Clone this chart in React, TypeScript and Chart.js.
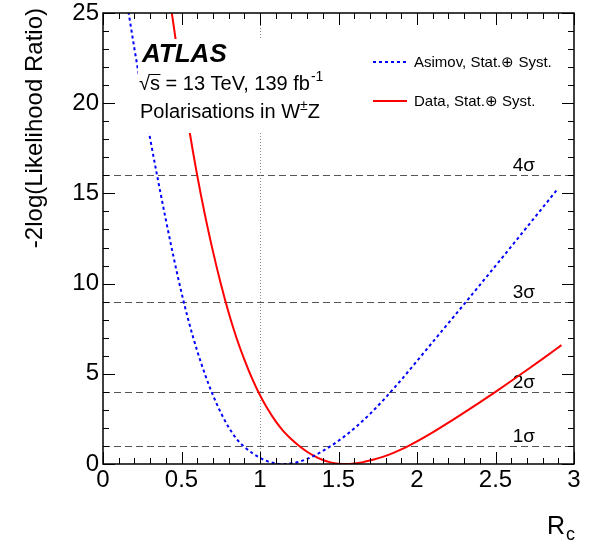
import { useEffect, useRef } from 'react';
import { Chart, registerables } from 'chart.js';

Chart.register(...registerables);

// ---- Data ----
const asimovX = [0.15, 0.2, 0.25, 0.3, 0.35, 0.4, 0.45, 0.5, 0.55, 0.6, 0.65, 0.7, 0.75, 0.8, 0.85, 0.9, 0.95, 1.0, 1.05, 1.1, 1.15, 1.2, 1.25, 1.3, 1.35, 1.4, 1.45, 1.5, 1.55, 1.6, 1.7, 1.8, 1.9, 2.0, 2.1, 2.2, 2.3, 2.4, 2.5, 2.6, 2.7, 2.8, 2.9];
const asimovY = [25.73, 23.03, 20.48, 18.05, 15.75, 13.55, 11.45, 9.5, 7.77, 6.27, 4.96, 3.82, 2.85, 2.04, 1.4, 0.95, 0.61, 0.34, 0.145, 0.033, 0.0, 0.036, 0.13, 0.28, 0.48, 0.72, 0.99, 1.29, 1.615, 1.97, 2.77, 3.68, 4.67, 5.71, 6.76, 7.81, 8.86, 9.92, 10.98, 12.05, 13.13, 14.21, 15.29];

const dataX = [0.43, 0.45, 0.5, 0.55, 0.6, 0.65, 0.7, 0.75, 0.8, 0.85, 0.9, 0.95, 1.0, 1.05, 1.1, 1.15, 1.2, 1.25, 1.3, 1.35, 1.4, 1.45, 1.5, 1.55, 1.6, 1.65, 1.7, 1.75, 1.8, 1.85, 1.9, 1.95, 2.0, 2.1, 2.2, 2.3, 2.4, 2.5, 2.6, 2.7, 2.8, 2.92];
const dataY = [25.5, 24.3, 21.3, 18.5, 16.0, 13.78, 11.8, 10.0, 8.4, 7.0, 5.8, 4.73, 3.81, 3.03, 2.36, 1.81, 1.375, 1.0, 0.68, 0.42, 0.22, 0.09, 0.02, 0.0, 0.03, 0.09, 0.19, 0.31, 0.45, 0.62, 0.81, 1.02, 1.25, 1.75, 2.29, 2.85, 3.42, 4.0, 4.6, 5.21, 5.83, 6.59];

const sigmaLevels = [1, 4, 9, 16];
const sigmaLabels = ['1σ', '2σ', '3σ', '4σ'];
const sigmaLabelX = 2.61;
const referenceX = 1;

const xMin = 0;
const xMax = 3;
const yMin = 0;
const yMax = 25;

const seriesNames = ['Asimov, Stat.⊕ Syst.', 'Data, Stat.⊕ Syst.'];

const FONT = "'Liberation Sans', Arial, Helvetica, sans-serif";

function toPoints(xs: number[], ys: number[]) {
  return xs.map((x, i) => ({ x, y: ys[i] }));
}

function fmtTick(v: number) {
  return Number.isInteger(v) ? String(v) : v.toFixed(1);
}

const decorPlugin = {
  id: 'rootDecor',
  beforeDatasetsDraw(chart: any) {
    const { ctx, chartArea, scales } = chart;
    const xs = scales.x;
    const ys = scales.y;
    ctx.save();
    // horizontal sigma lines
    ctx.strokeStyle = '#555';
    ctx.lineWidth = 1;
    ctx.setLineDash([7, 4]);
    sigmaLevels.forEach((lv) => {
      const py = Math.round(ys.getPixelForValue(lv)) + 0.5;
      ctx.beginPath();
      ctx.moveTo(chartArea.left, py);
      ctx.lineTo(chartArea.right, py);
      ctx.stroke();
    });
    // vertical dotted line at x=1
    ctx.strokeStyle = '#888';
    ctx.setLineDash([1, 2]);
    const px1 = Math.round(xs.getPixelForValue(referenceX)) + 0.5;
    ctx.beginPath();
    ctx.moveTo(px1, chartArea.bottom);
    ctx.lineTo(px1, chartArea.top);
    ctx.stroke();
    ctx.setLineDash([]);
    // sigma labels
    ctx.fillStyle = '#000';
    ctx.font = `19px ${FONT}`;
    ctx.textAlign = 'left';
    ctx.textBaseline = 'alphabetic';
    sigmaLevels.forEach((lv, i) => {
      const py = ys.getPixelForValue(lv);
      ctx.fillText(sigmaLabels[i], xs.getPixelForValue(sigmaLabelX), py - 4);
    });
    ctx.restore();
  },
  afterDatasetsDraw(chart: any) {
    const { ctx, chartArea, scales } = chart;
    const xs = scales.x;
    const ys = scales.y;
    const { left, right, top, bottom } = chartArea;
    ctx.save();

    // white pave behind the ATLAS label
    ctx.fillStyle = '#fff';
    ctx.fillRect(138, 39, 195, 94);

    // ATLAS label
    ctx.fillStyle = '#000';
    ctx.textAlign = 'left';
    ctx.textBaseline = 'alphabetic';
    ctx.font = `italic bold 26px ${FONT}`;
    ctx.fillText('ATLAS', 142, 62);

    // sqrt(s) line
    ctx.font = `20px ${FONT}`;
    let cx = 139;
    const base1 = 90;
    ctx.fillText('√', cx, base1);
    cx += ctx.measureText('√').width;
    const sW = ctx.measureText('s').width;
    ctx.fillText('s', cx, base1);
    ctx.strokeStyle = '#000';
    ctx.lineWidth = 1;
    ctx.beginPath();
    ctx.moveTo(cx - 1, base1 - 15.5);
    ctx.lineTo(cx + sW + 0.5, base1 - 15.5);
    ctx.stroke();
    cx += sW;
    const t1 = ' = 13 TeV, 139 fb';
    ctx.fillText(t1, cx, base1);
    cx += ctx.measureText(t1).width;
    ctx.font = `14px ${FONT}`;
    ctx.fillText('-1', cx + 1, base1 - 9);

    // Polarisations line
    ctx.font = `20px ${FONT}`;
    const base2 = 118;
    let px = 140;
    const t2 = 'Polarisations in W';
    ctx.fillText(t2, px, base2);
    px += ctx.measureText(t2).width;
    ctx.font = `14px ${FONT}`;
    ctx.fillText('±', px, base2 - 8);
    px += ctx.measureText('±').width;
    ctx.font = `20px ${FONT}`;
    ctx.fillText('Z', px, base2);

    // legend
    const legendRows = [
      { y: 62, color: '#0000ff', dash: [3, 3], text: seriesNames[0] },
      { y: 101, color: '#ff0000', dash: [], text: seriesNames[1] },
    ];
    ctx.font = `15px ${FONT}`;
    ctx.textBaseline = 'middle';
    legendRows.forEach((r) => {
      ctx.strokeStyle = r.color;
      ctx.lineWidth = 2;
      ctx.setLineDash(r.dash);
      ctx.beginPath();
      ctx.moveTo(373, r.y);
      ctx.lineTo(407, r.y);
      ctx.stroke();
      ctx.setLineDash([]);
      ctx.fillStyle = '#000';
      ctx.fillText(r.text, 414, r.y + 1);
    });

    // ticks (inside, all four sides)
    ctx.strokeStyle = '#000';
    ctx.lineWidth = 1;
    ctx.beginPath();
    for (let i = 0; i <= 30; i++) {
      const v = xMin + i * 0.1;
      const len = i % 5 === 0 ? 12 : 6;
      const p = Math.round(xs.getPixelForValue(v)) + 0.5;
      ctx.moveTo(p, bottom);
      ctx.lineTo(p, bottom - len);
      ctx.moveTo(p, top);
      ctx.lineTo(p, top + len);
    }
    for (let i = 0; i <= 25; i++) {
      const len = i % 5 === 0 ? 12 : 6;
      const p = Math.round(ys.getPixelForValue(i)) + 0.5;
      ctx.moveTo(left, p);
      ctx.lineTo(left + len, p);
      ctx.moveTo(right, p);
      ctx.lineTo(right - len, p);
    }
    ctx.stroke();

    // frame
    ctx.lineWidth = 1.5;
    ctx.strokeRect(left, top, right - left, bottom - top);

    // y-axis title
    ctx.save();
    ctx.translate(35, 8);
    ctx.rotate(-Math.PI / 2);
    ctx.font = `24px ${FONT}`;
    ctx.textAlign = 'right';
    ctx.textBaseline = 'middle';
    ctx.fillStyle = '#000';
    ctx.fillText('-2log(Likelihood Ratio)', 0, 0);
    ctx.restore();

    // x-axis title R_c
    ctx.fillStyle = '#000';
    ctx.textAlign = 'left';
    ctx.textBaseline = 'alphabetic';
    ctx.font = `25px ${FONT}`;
    ctx.fillText('R', 547, 534);
    const rW = ctx.measureText('R').width;
    ctx.font = `18px ${FONT}`;
    ctx.fillText('c', 547 + rW + 1, 540);

    ctx.restore();
  },
};

export default function App() {
  const canvasRef = useRef<HTMLCanvasElement | null>(null);

  useEffect(() => {
    if (!canvasRef.current) return;
    const chart = new Chart(canvasRef.current, {
      type: 'line',
      data: {
        datasets: [
          {
            label: seriesNames[0],
            data: toPoints(asimovX, asimovY),
            borderColor: '#0000ff',
            borderWidth: 2,
            borderDash: [3, 3],
            pointRadius: 0,
            fill: false,
            cubicInterpolationMode: 'monotone',
          },
          {
            label: seriesNames[1],
            data: toPoints(dataX, dataY),
            borderColor: '#ff0000',
            borderWidth: 2,
            pointRadius: 0,
            fill: false,
            cubicInterpolationMode: 'monotone',
          },
        ],
      },
      plugins: [decorPlugin],
      options: {
        animation: false,
        responsive: false,
        events: [],
        layout: { padding: { top: 13, right: 20, left: 0, bottom: 0 } },
        plugins: {
          legend: { display: false },
          tooltip: { enabled: false },
        },
        scales: {
          x: {
            type: 'linear',
            min: xMin,
            max: xMax,
            grid: { display: false, drawTicks: false },
            border: { display: false },
            ticks: {
              stepSize: 0.5,
              color: '#000',
              padding: 2,
              font: { family: FONT, size: 24 },
              callback: (v: any) => fmtTick(Number(v)),
            },
            afterFit: (s: any) => {
              s.height = 80;
              s.paddingLeft = 0;
              s.paddingRight = 0;
            },
          },
          y: {
            type: 'linear',
            min: yMin,
            max: yMax,
            grid: { display: false, drawTicks: false },
            border: { display: false },
            ticks: {
              stepSize: 5,
              color: '#000',
              padding: 4,
              font: { family: FONT, size: 24, lineHeight: 1 },
              callback: (v: any) => fmtTick(Number(v)),
            },
            afterFit: (s: any) => {
              s.width = 103;
              s.paddingTop = 0;
              s.paddingBottom = 0;
            },
          },
        },
      },
    } as any);
    return () => chart.destroy();
  }, []);

  return (
    <div style={{ position: 'absolute', left: 0, top: 0, width: 594, height: 544, background: '#fff' }}>
      <canvas ref={canvasRef} width={594} height={544} style={{ display: 'block' }} />
    </div>
  );
}
